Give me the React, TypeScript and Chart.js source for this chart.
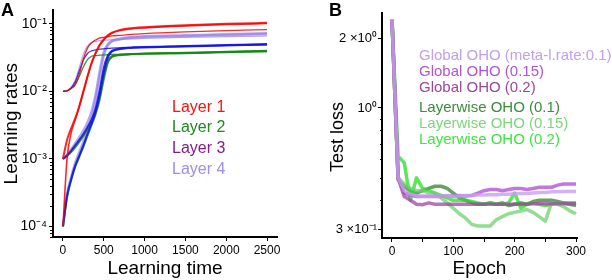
import React, { useEffect, useRef } from "react";
import { Chart, registerables } from "chart.js";
Chart.register(...registerables);

const FONT = '"Liberation Sans", Arial, Helvetica, sans-serif';

// ---------- Panel A data ----------
const timeSteps = [0, 50, 100, 150, 200, 250, 300, 350, 400, 450, 500, 550, 600, 700, 800, 1000, 1500, 2000, 2500];

const layer1From1e2 = [0.0100, 0.0102, 0.0110, 0.0126, 0.0178, 0.0302, 0.0437, 0.0525, 0.0575, 0.0617, 0.0631, 0.0646, 0.0661, 0.0676, 0.0692, 0.0716, 0.0759, 0.0794, 0.0822];
const layer1From1e3 = [0.00100, 0.00191, 0.00282, 0.00398, 0.00603, 0.0100, 0.0166, 0.0263, 0.0372, 0.0490, 0.0589, 0.0676, 0.0741, 0.0813, 0.0851, 0.0891, 0.0955, 0.100, 0.1035];
const layer1From1e4 = [0.000100, 0.00100, 0.00240, 0.00380, 0.00589, 0.00977, 0.0162, 0.0257, 0.0363, 0.0479, 0.0575, 0.0661, 0.0724, 0.0794, 0.0832, 0.0871, 0.0933, 0.0977, 0.101];

const layer2From1e2 = [0.0100, 0.0102, 0.0110, 0.0126, 0.0166, 0.0229, 0.0295, 0.0331, 0.0339, 0.0343, 0.0347, 0.0348, 0.0351, 0.0355, 0.0359, 0.0363, 0.0372, 0.0380, 0.0389];
const layer2From1e3 = [0.00100, 0.00110, 0.00126, 0.00148, 0.00178, 0.00219, 0.00275, 0.00355, 0.00501, 0.00851, 0.0170, 0.0282, 0.0331, 0.0347, 0.0355, 0.0363, 0.0372, 0.0385, 0.0398];
const layer2From1e4 = [0.000100, 0.000269, 0.000479, 0.000759, 0.00107, 0.00151, 0.00219, 0.00316, 0.00457, 0.00759, 0.0151, 0.0263, 0.0324, 0.0343, 0.0351, 0.0359, 0.0367, 0.0380, 0.0394];

const layer3From1e2 = [0.0100, 0.0102, 0.0112, 0.0138, 0.0200, 0.0288, 0.0363, 0.0398, 0.0412, 0.0422, 0.0427, 0.0432, 0.0437, 0.0442, 0.0447, 0.0457, 0.0468, 0.0479, 0.0490];
const layer3From1e3 = [0.00100, 0.00112, 0.00132, 0.00158, 0.00191, 0.00234, 0.00295, 0.00380, 0.00562, 0.0105, 0.0224, 0.0339, 0.0398, 0.0427, 0.0442, 0.0452, 0.0468, 0.0484, 0.0501];
const layer3From1e4 = [0.000100, 0.000282, 0.000501, 0.000794, 0.00112, 0.00158, 0.00234, 0.00331, 0.00501, 0.00891, 0.0191, 0.0316, 0.0389, 0.0422, 0.0437, 0.0447, 0.0462, 0.0479, 0.0495];

const layer4From1e2 = [0.0100, 0.0102, 0.0115, 0.0145, 0.0224, 0.0355, 0.0468, 0.0525, 0.0550, 0.0562, 0.0569, 0.0575, 0.0582, 0.0589, 0.0596, 0.0610, 0.0631, 0.0646, 0.0661];
const layer4From1e3 = [0.00100, 0.00115, 0.00138, 0.00170, 0.00209, 0.00263, 0.00347, 0.00501, 0.00891, 0.0200, 0.0380, 0.0501, 0.0562, 0.0603, 0.0631, 0.0653, 0.0676, 0.0700, 0.0724];
const layer4From1e4 = [0.000100, 0.000302, 0.000537, 0.000871, 0.00126, 0.00182, 0.00269, 0.00417, 0.00759, 0.0166, 0.0339, 0.0479, 0.0550, 0.0589, 0.0617, 0.0638, 0.0661, 0.0684, 0.0708];

const layerNames = ["Layer 1", "Layer 2", "Layer 3", "Layer 4"];
const layerLineColors = ["rgba(255,0,0,0.85)", "rgba(20,135,20,0.85)", "rgba(20,20,235,0.85)", "rgba(150,130,235,0.7)"];
const layerTextColors = ["#ff1010", "#1d8a1d", "#8a1a8a", "#a08ce8"];

const rateTicks = [1e-4, 1e-3, 1e-2, 1e-1];
const rateTickLabels = ["10\u207B\u2074", "10\u207B\u00B3", "10\u207B\u00B2", "10\u207B\u00B9"];
const timeTicks = [0, 500, 1000, 1500, 2000, 2500];

// ---------- Panel B data ----------
const epochs = [0, 10, 20, 30, 40, 50, 60, 70, 80, 90, 100, 110, 120, 130, 140, 150, 160, 170, 180, 190, 200, 210, 220, 230, 240, 250, 260, 270, 280, 290, 300];
const globalLoss01 = [2.40, 0.50, 0.44, 0.425, 0.418, 0.416, 0.416, 0.416, 0.416, 0.416, 0.416, 0.418, 0.42, 0.42, 0.422, 0.422, 0.423, 0.423, 0.425, 0.425, 0.427, 0.428, 0.428, 0.43, 0.432, 0.432, 0.435, 0.435, 0.437, 0.437, 0.437];
const globalLoss015 = [2.40, 0.50, 0.43, 0.42, 0.415, 0.415, 0.415, 0.415, 0.415, 0.418, 0.418, 0.42, 0.418, 0.42, 0.43, 0.44, 0.445, 0.445, 0.44, 0.445, 0.45, 0.45, 0.445, 0.45, 0.455, 0.455, 0.455, 0.465, 0.47, 0.47, 0.47];
const globalLoss02 = [2.40, 0.50, 0.415, 0.40, 0.385, 0.383, 0.39, 0.385, 0.385, 0.385, 0.385, 0.385, 0.385, 0.385, 0.385, 0.385, 0.385, 0.385, 0.385, 0.385, 0.385, 0.385, 0.385, 0.387, 0.387, 0.387, 0.387, 0.387, 0.387, 0.387, 0.387];
const layerwiseLoss01 = [2.40, 0.49, 0.46, 0.44, 0.43, 0.44, 0.45, 0.46, 0.46, 0.45, 0.43, 0.41, 0.40, 0.39, 0.385, 0.385, 0.39, 0.385, 0.39, 0.38, 0.385, 0.39, 0.385, 0.395, 0.40, 0.40, 0.40, 0.395, 0.39, 0.385, 0.38];
const layerwiseLoss015 = [2.40, 0.50, 0.47, 0.45, 0.44, 0.44, 0.43, 0.43, 0.41, 0.39, 0.37, 0.35, 0.335, 0.315, 0.31, 0.31, 0.31, 0.33, 0.34, 0.35, 0.355, 0.36, 0.365, 0.355, 0.34, 0.325, 0.39, 0.385, 0.375, 0.36, 0.35];
const layerwiseLoss02 = [2.40, 0.62, 0.58, 0.40, 0.50, 0.45, 0.44, 0.43, 0.42, 0.41, 0.40, 0.40, 0.40, 0.395, 0.39, 0.385, 0.39, 0.385, 0.385, 0.39, 0.43, 0.37, 0.385, 0.39, 0.385, 0.38, 0.385, 0.39, 0.39, 0.39, 0.39];

const seriesNamesB = [
  "Global OHO (meta-l.rate:0.1)",
  "Global OHO (0.15)",
  "Global OHO (0.2)",
  "Layerwise OHO (0.1)",
  "Layerwise OHO (0.15)",
  "Layerwise OHO (0.2)",
];
const seriesLineColorsB = [
  "rgba(196,160,236,0.8)",
  "rgba(180,82,216,0.8)",
  "rgba(160,70,160,0.75)",
  "rgba(50,130,50,0.75)",
  "rgba(110,210,110,0.75)",
  "rgba(40,220,40,0.75)",
];
const seriesTextColorsB = ["#c3a0ea", "#b452d8", "#a0459e", "#3c8c3c", "#7bd67b", "#3ee63e"];

const lossTicks = [0.3, 1, 2];
const lossTickLabels = ["3 \u00D710\u207B\u00B9", "10\u2070", "2 \u00D710\u2070"];
const lossMinorTicks = [0.4, 0.5, 0.6, 0.7, 0.8, 0.9];
const epochTicks = [0, 50, 100, 150, 200, 250, 300];
const epochTickLabels = ["0", "", "100", "", "200", "", "300"];

type Txt = { text: string; color: string; x: number; y: number; size: number; rotate?: boolean };

function overlayPlugin(id: string, minor: number[], minorLen: number, texts: Txt[]) {
  return {
    id,
    afterDraw(chart: any) {
      const ctx = chart.ctx;
      const ys = chart.scales.y;
      ctx.save();
      ctx.strokeStyle = "#000";
      ctx.lineWidth = 1;
      for (const v of minor) {
        if (v < ys.min || v > ys.max) continue;
        const py = Math.round(ys.getPixelForValue(v)) + 0.5;
        ctx.beginPath();
        ctx.moveTo(chart.chartArea.left - minorLen, py);
        ctx.lineTo(chart.chartArea.left, py);
        ctx.stroke();
      }
      for (const l of texts) {
        ctx.save();
        ctx.font = `${l.size}px ${FONT}`;
        ctx.fillStyle = l.color;
        ctx.textBaseline = "middle";
        if (l.rotate) {
          ctx.translate(l.x, l.y);
          ctx.rotate(-Math.PI / 2);
          ctx.textAlign = "center";
          ctx.fillText(l.text, 0, 0);
        } else {
          ctx.textAlign = "left";
          ctx.fillText(l.text, l.x, l.y);
        }
        ctx.restore();
      }
      ctx.restore();
    },
  };
}

const minorRates: number[] = [];
[1e-5, 1e-4, 1e-3, 1e-2, 1e-1].forEach((d) => [2, 3, 4, 5, 6, 7, 8, 9].forEach((m) => minorRates.push(m * d)));

const axisCommon = {
  grid: { drawOnChartArea: false, drawTicks: true, tickLength: 4, tickColor: "#000", tickWidth: 1 },
  border: { display: true, color: "#000", width: 2 },
};

function buildA(canvas: HTMLCanvasElement) {
  const runs = [
    { v: layer1From1e4, l: 0, w: 1.6 },
    { v: layer1From1e3, l: 0, w: 2 },
    { v: layer1From1e2, l: 0, w: 1.3 },
    { v: layer3From1e4, l: 2, w: 2 },
    { v: layer3From1e3, l: 2, w: 2 },
    { v: layer3From1e2, l: 2, w: 1.3 },
    { v: layer2From1e4, l: 1, w: 2 },
    { v: layer2From1e3, l: 1, w: 2 },
    { v: layer2From1e2, l: 1, w: 1.3 },
    { v: layer4From1e4, l: 3, w: 2.5 },
    { v: layer4From1e3, l: 3, w: 2.5 },
    { v: layer4From1e2, l: 3, w: 1.3 },
  ];
  const texts: Txt[] = layerNames.map((t, i) => ({ text: t, color: layerTextColors[i], x: 172, y: [108, 128, 149, 170][i], size: 16 }));
  return new Chart(canvas, {
    type: "line",
    data: {
      datasets: runs.map((r) => ({
        label: layerNames[r.l],
        data: timeSteps.map((t, i) => ({ x: t, y: r.v[i] })),
        borderColor: layerLineColors[r.l],
        borderWidth: r.w,
        pointRadius: 0,
        cubicInterpolationMode: "monotone",
        fill: false,
      })),
    },
    options: {
      animation: false,
      responsive: false,
      devicePixelRatio: 1,
      layout: { padding: { top: 2, right: 23, left: 0, bottom: 0 } },
      plugins: { legend: { display: false }, tooltip: { enabled: false } },
      scales: {
        x: {
          type: "linear",
          min: -122,
          max: 2622,
          afterBuildTicks: (s: any) => { s.ticks = timeTicks.map((v) => ({ value: v })); },
          afterFit: (s: any) => { s.height = 43; },
          ticks: { autoSkip: false, maxRotation: 0, padding: 2, color: "#000", font: { family: FONT, size: 12 }, callback: (v: any) => String(v) },
          ...axisCommon,
          title: { display: true, text: "Learning time", color: "#000", font: { family: FONT, size: 19 }, padding: 0 },
        },
        y: {
          type: "logarithmic",
          min: 6.97e-5,
          max: 0.158,
          afterBuildTicks: (s: any) => { s.ticks = rateTicks.map((v) => ({ value: v })); },
          afterFit: (s: any) => { s.width = 53; },
          ticks: {
            autoSkip: false, padding: 2, color: "#000", font: { family: FONT, size: 14 },
            callback: (v: any, i: number) => rateTickLabels[i] ?? "",
          },
          ...axisCommon,
          title: { display: true, text: "Learning rates", color: "#000", font: { family: FONT, size: 19 }, padding: 0 },
        },
      },
    },
    plugins: [overlayPlugin("overlayA", minorRates, 3, texts)],
  } as any);
}

function buildB(canvas: HTMLCanvasElement) {
  const series = [globalLoss01, globalLoss015, globalLoss02, layerwiseLoss01, layerwiseLoss015, layerwiseLoss02];
  const legendY = [56, 72, 88, 108, 124, 140];
  const texts: Txt[] = seriesNamesB.map((t, i) => ({ text: t, color: seriesTextColorsB[i], x: 119, y: legendY[i], size: 15 }));
  texts.push({ text: "Test loss", color: "#000", x: 38, y: 137, size: 18, rotate: true });
  const order = [0, 2, 1, 4, 5, 3];
  return new Chart(canvas, {
    type: "line",
    data: {
      datasets: order.map((k) => ({
        label: seriesNamesB[k],
        data: epochs.map((e, i) => ({ x: e, y: series[k][i] })),
        borderColor: seriesLineColorsB[k],
        borderWidth: 3.5,
        pointRadius: 0,
        tension: 0,
        borderJoinStyle: "round",
        fill: false,
      })),
    },
    options: {
      animation: false,
      responsive: false,
      devicePixelRatio: 1,
      layout: { padding: { top: 13, right: 35, left: 0, bottom: 0 } },
      plugins: { legend: { display: false }, tooltip: { enabled: false } },
      scales: {
        x: {
          type: "linear",
          min: -16.3,
          max: 301.6,
          afterBuildTicks: (s: any) => { s.ticks = epochTicks.map((v) => ({ value: v })); },
          afterFit: (s: any) => { s.height = 42; },
          ticks: { autoSkip: false, maxRotation: 0, padding: 2, color: "#000", font: { family: FONT, size: 12 }, callback: (v: any, i: number) => epochTickLabels[i] ?? "" },
          ...axisCommon,
          title: { display: true, text: "Epoch", color: "#000", font: { family: FONT, size: 19 }, padding: 0 },
        },
        y: {
          type: "logarithmic",
          min: 0.2752,
          max: 2.567,
          afterBuildTicks: (s: any) => { s.ticks = lossTicks.map((v) => ({ value: v })); },
          afterFit: (s: any) => { s.width = 82; },
          ticks: {
            autoSkip: false, padding: 1, color: "#000", font: { family: FONT, size: 13 },
            callback: (v: any, i: number) => lossTickLabels[i] ?? "",
          },
          ...axisCommon,
          title: { display: false, text: "Test loss" },
        },
      },
    },
    plugins: [overlayPlugin("overlayB", lossMinorTicks, 2, texts)],
  } as any);
}

export default function App() {
  const refA = useRef<HTMLCanvasElement>(null);
  const refB = useRef<HTMLCanvasElement>(null);
  useEffect(() => {
    const a = buildA(refA.current!);
    const b = buildB(refB.current!);
    return () => {
      a.destroy();
      b.destroy();
    };
  }, []);
  return (
    <div style={{ position: "absolute", left: 0, top: 0, width: 612, height: 280, background: "#fff", overflow: "hidden" }}>
      <canvas ref={refA} width={300} height={280} style={{ position: "absolute", left: 0, top: 0 }} />
      <canvas ref={refB} width={312} height={280} style={{ position: "absolute", left: 300, top: 0 }} />
      <div style={{ position: "absolute", left: 1, top: 0, font: `bold 18px ${FONT}`, color: "#000" }}>A</div>
      <div style={{ position: "absolute", left: 329, top: 0, font: `bold 18px ${FONT}`, color: "#000" }}>B</div>
    </div>
  );
}
